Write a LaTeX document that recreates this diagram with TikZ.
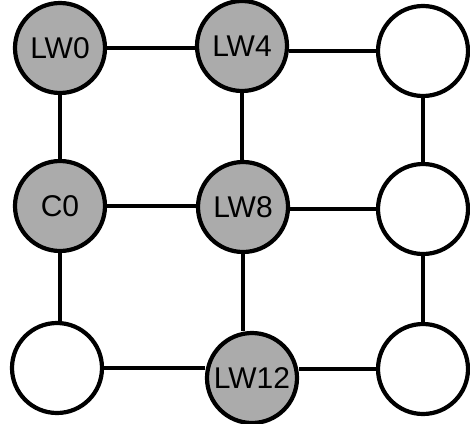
\documentclass[tikz,border=0pt]{standalone}
\usepackage{fontspec}
\setmainfont{Liberation Sans}
\begin{document}
\begin{tikzpicture}[x=1pt,y=-1pt,
  cell/.style={circle,draw=black,line width=4.2pt,minimum size=90pt,inner sep=0pt,fill=white,font=\fontsize{30}{31}\selectfont},
  hot/.style={cell,fill=black!33},
  link/.style={line width=3.2pt}]
\useasboundingbox (0,0) rectangle (470,423);
\node[hot]  (lw0)  at (60,48)  {LW0};
\node[hot]  (lw4)  at (242,46) {LW4};
\node[cell] (r1)   at (423,51) {};
\node[hot]  (c0)   at (60,206) {C0};
\node[hot]  (lw8)  at (243,207) {LW8};
\node[cell] (r2)   at (423,209) {};
\node[cell] (bl)   at (57,368) {};
\node[hot]  (lw12) at (252,378) {LW12};
\node[cell] (r3)   at (423,369) {};
% horizontals
\draw[link] (lw0.east) -- (lw0.east -| lw4.west);
\draw[link] (r1.west) -- (r1.west -| lw4.east);
\draw[link] (c0.east) -- (c0.east -| lw8.west);
\draw[link] (r2.west) -- (r2.west -| lw8.east);
\draw[link] (bl.east) -- (bl.east -| lw12.west);
\draw[link] (r3.west) -- (r3.west -| lw12.east);
% verticals
\draw[link] (lw0.south) -- (lw0.south |- c0.north);
\draw[link] (c0.south) -- (c0.south |- bl.north);
\draw[link] (lw4.south) -- (lw4.south |- lw8.north);
\draw[link] (lw8.south) -- (lw8.south |- lw12.north);
\draw[link] (r1.south) -- (r1.south |- r2.north);
\draw[link] (r2.south) -- (r2.south |- r3.north);
\end{tikzpicture}
\end{document}
